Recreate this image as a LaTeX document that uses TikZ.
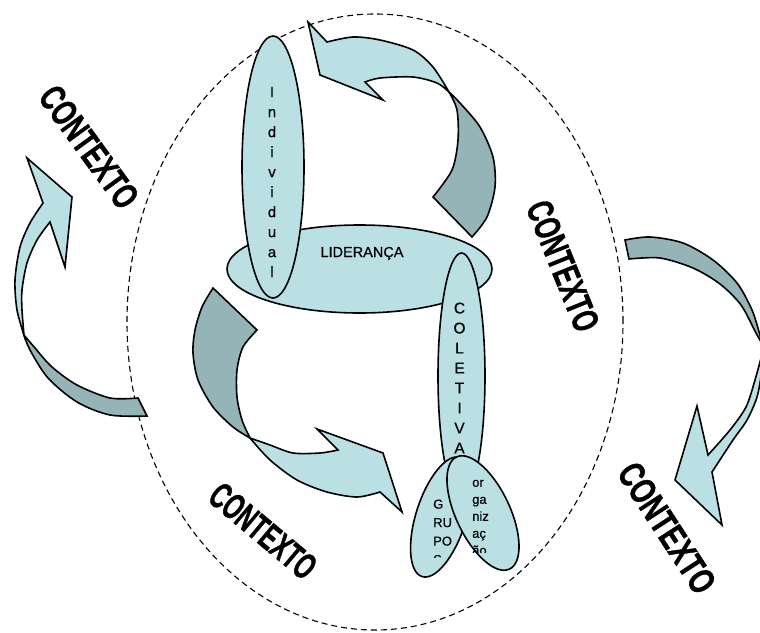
\documentclass[tikz,border=0pt]{standalone}
\usepackage{fontspec}
\setmainfont{Liberation Sans}
\newfontfamily\ctxfont{Liberation Sans}[BoldFeatures={FakeBold=1.3}]
\newfontfamily\txtfont{Liberation Sans}[FakeBold=0.5]
\usetikzlibrary{shapes.geometric}
\definecolor{lightc}{RGB}{186,224,228}
\definecolor{darkc}{RGB}{148,180,184}
\begin{document}
\begin{tikzpicture}[x=1pt,y=-1pt,
  outl/.style={draw=black, line width=1.6pt},
  lightpart/.style={outl, fill=lightc},
  darkpart/.style={outl, fill=darkc},
  oval/.style={ellipse, outl, fill=lightc, inner sep=0pt},
  ctxlabel/.style={font=\fontsize{37}{37}\ctxfont\bfseries, inner sep=0pt},
  letters/.style={inner sep=0pt, align=center},
  lefttext/.style={inner sep=0pt, anchor=north west, align=left},
]
\useasboundingbox (0,0) rectangle (760,632);
\clip (0,0) rectangle (760,632);
\fill[white] (0,0) rectangle (760,632);

% outer dashed context ellipse
\node[ellipse, draw=black, line width=1.1pt, dash pattern=on 6pt off 4pt,
      minimum width=496pt, minimum height=616pt, inner sep=0pt] (ctx) at (375,322) {};

% top arrow (inside)
\filldraw[darkpart] (449,92) -- plot[smooth] coordinates {(449,92) (460,103) (480,127) (493,157) (495,187) (487,217) (472,237)}
  -- (433,197) -- plot[smooth] coordinates {(433,197) (452,170) (458,140) (457,110) (449,92)} -- cycle;
\filldraw[lightpart] (308,22) -- (327,42) -- plot[smooth] coordinates {(327,42) (353,37) (380,40) (413,50) (433,67) (449,92)}
  -- plot[smooth] coordinates {(449,92) (437,83) (413,77) (380,78) (365,82)} -- (383,100) -- (320,75) -- cycle;

% lower-left arrow (inside)
\filldraw[darkpart] (213,288) -- plot[smooth] coordinates {(213,288) (202,307) (195,330) (193,353) (198,380) (213,407) (233,427) (250,438)}
  -- plot[smooth] coordinates {(250,438) (242,420) (237,397) (237,370) (243,347) (257,330)} -- cycle;
\filldraw[lightpart] (250,438) -- plot[smooth] coordinates {(250,438) (270,460) (297,480) (327,492) (357,497) (380,492)}
  -- (402,512) -- (383,453) -- (317,429) -- (338,450)
  -- plot[smooth] coordinates {(338,450) (320,453) (293,453) (270,445) (250,438)} -- cycle;

% left outer arrow
\filldraw[darkpart] (24,335) -- plot[smooth] coordinates {(24,335) (30,350) (48,378) (77,402) (110,415) (147,416)}
  -- (138,398) -- plot[smooth] coordinates {(138,398) (110,398) (77,385) (52,367) (35,348) (24,335)} -- cycle;
\filldraw[lightpart] (27,158) -- (43,203) -- plot[smooth] coordinates {(43,203) (30,223) (20,247) (15,280) (17,310) (24,335)}
  -- plot[smooth] coordinates {(24,335) (22,310) (22,290) (27,263) (37,240) (50,222)} -- (65,267) -- (72,197) -- cycle;

% right outer arrow
\filldraw[darkpart] (625,240) -- plot[smooth] coordinates {(625,240) (650,237) (683,243) (713,260) (737,283) (752,310) (760,335) (764,347)}
  -- plot[smooth] coordinates {(764,347) (756,333) (741,305) (720,284) (693,268) (660,258) (629,259)} -- cycle;
\filldraw[lightpart] (764,347) -- plot[smooth] coordinates {(764,347) (762,370) (757,397) (747,420) (733,440) (712,472)}
  -- (722,525) -- (675,480) -- (697,406) -- (708,455)
  -- plot[smooth] coordinates {(708,455) (730,430) (746,407) (755,380) (764,347)} -- cycle;

% CONTEXTO labels
\node[ctxlabel, rotate=-54] (c1) at (89,147) {\scalebox{0.69}[1]{CONTEXTO}};
\node[ctxlabel, rotate=-68] (c2) at (563,266) {\scalebox{0.67}[1]{CONTEXTO}};
\node[ctxlabel, rotate=-40] (c3) at (263,531) {\scalebox{0.62}[1]{CONTEXTO}};
\node[ctxlabel, rotate=-57] (c4) at (667,528) {\scalebox{0.72}[1]{CONTEXTO}};

% LIDERANCA
\node[oval, minimum width=265pt, minimum height=88pt] (lid) at (359.5,269) {};
\node[inner sep=0pt, anchor=base, font=\fontsize{14.5}{17}\txtfont] (tlid) at (362,257) {LIDERANÇA};

% Individual
\node[oval, minimum width=62pt, minimum height=262pt] (ind) at (273,167) {};
\node[letters, anchor=north, font=\fontsize{15}{20}\txtfont] (tind) at (272,86.6) {I\\n\\d\\i\\v\\i\\d\\u\\a\\l};

% COLETIVA
\node[oval, minimum width=47pt, minimum height=246pt] (col) at (461.5,376) {};
\node[letters, anchor=north, font=\fontsize{15.5}{20}\txtfont] (tcol) at (459.5,302.4) {C\\O\\L\\E\\T\\I\\V\\A};

% GRUPOS
\node[oval, minimum width=50pt, minimum height=125pt, rotate=-17.7] (gru) at (441,517) {};
\begin{scope}
\clip (400,440) rectangle (470,557.5);
\node[lefttext, font=\fontsize{13}{18.5}\txtfont] (tgru) at (433,499.3) {G\\RU\\PO\\S};
\end{scope}

% organizacao
\node[oval, minimum width=54pt, minimum height=124pt, rotate=25.3] (org) at (483,513) {};
\begin{scope}
\clip (440,440) rectangle (530,552);
\node[lefttext, font=\fontsize{13}{17}\txtfont] (torg) at (472,479.6) {or\\ga\\niz\\aç\\ão};
\end{scope}
\end{tikzpicture}
\end{document}
